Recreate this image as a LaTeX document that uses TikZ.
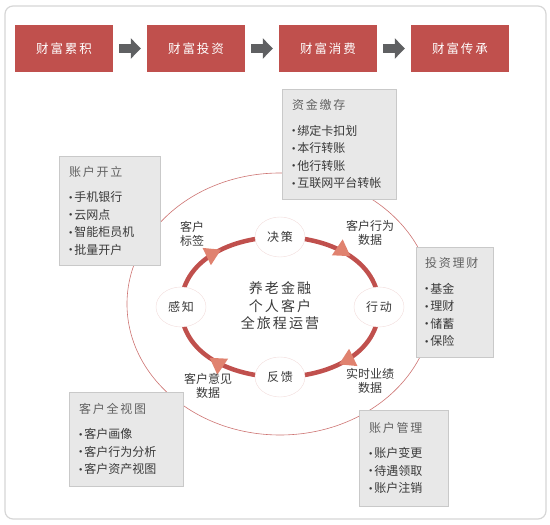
\documentclass[tikz,border=0pt]{standalone}
\usepackage{fontspec}
\usepackage{graphicx}
\setmainfont{Noto Sans CJK SC}
\newfontfamily\spaced[LetterSpace=15]{Noto Sans CJK SC}
\usetikzlibrary{positioning,arrows.meta,decorations.markings,shapes.geometric,backgrounds}
\definecolor{brick}{HTML}{C0504D}
\definecolor{salmon}{HTML}{E0826F}
\definecolor{boxgray}{HTML}{E8E8E8}
\definecolor{edgegray}{HTML}{C9C9C9}
\definecolor{ink}{HTML}{3A3A3A}
\definecolor{arrgray}{HTML}{5F6062}
\definecolor{framegray}{HTML}{D6D6D6}
\newcommand{\itm}{\raisebox{0.2em}{\scalebox{0.55}{$\bullet$}}\,}
\newcommand{\ttl}[1]{{\spaced\color{ink!80}#1}\\[8pt]}

\begin{document}
\begin{tikzpicture}[x=1pt,y=1pt,
  wb/.style={fill=brick, minimum width=98pt, minimum height=47pt,
             text=white, font=\spaced\fontsize{12.5}{14}\selectfont},
  flow/.style={-{Triangle[length=10pt,width=20pt]}, line width=9pt,
               color=arrgray, shorten <=6pt, shorten >=6pt},
  ib/.style={fill=boxgray, draw=edgegray, line width=0.8pt, align=left,
             inner xsep=10pt, inner ysep=6pt, text=ink,
             font=\fontsize{12}{17.5}\selectfont},
  ph/.style={ellipse, draw=brick!20, fill=white, minimum width=50pt,
             minimum height=40pt, inner sep=1pt, text=ink,
             font=\spaced\fontsize{12}{14}\selectfont},
  ring/.style={line width=4.5pt, color=brick, postaction={decorate},
               decoration={markings, mark=at position 0.55 with
               {\arrow[salmon]{Triangle[length=16pt,width=18pt]}}}},
  lbl/.style={align=center, text=ink, font=\fontsize{12}{14.5}\selectfont}]
  \useasboundingbox (0,0) rectangle (550,525);
  \draw[framegray, line width=1.2pt, rounded corners=8pt] (5,6) rectangle (546,519);

  % top row
  \node[wb] (w1) at (64,476.5)  {财富累积};
  \node[wb] (w2) at (196,476.5) {财富投资};
  \node[wb] (w3) at (328,476.5) {财富消费};
  \node[wb] (w4) at (460,476.5) {财富传承};
  \foreach \a/\b in {w1/w2,w2/w3,w3/w4}
    {\draw[flow] (\a) -- (\b);}

  % outer orbit
  \draw[brick!80, line width=0.6pt] (280,221) ellipse [x radius=153pt, y radius=131pt];

  % info boxes
  \node[ib, text width=94pt, minimum height=110pt] (zj) at (339,381)
    {\ttl{资金缴存}\itm 绑定卡扣划\\ \itm 本行转账\\ \itm 他行转账\\ \itm 互联网平台转帐};
  \node[ib, text width=81pt, minimum height=109pt] (kh) at (109.5,314.5)
    {\ttl{账户开立}\itm 手机银行\\ \itm 云网点\\ \itm 智能柜员机\\ \itm 批量开户};
  \node[ib, text width=59pt, inner xsep=9pt, minimum height=110pt] (tz) at (454.5,223)
    {\ttl{投资理财}\itm 基金\\ \itm 理财\\ \itm 储蓄\\ \itm 保险};
  \node[ib, text width=94pt, minimum height=94pt] (sv) at (126,86)
    {\ttl{客户全视图}\itm 客户画像\\ \itm 客户行为分析\\ \itm 客户资产视图};
  \node[ib, text width=69pt, minimum height=96pt] (gl) at (403.5,67)
    {\ttl{账户管理}\itm 账户变更\\ \itm 待遇领取\\ \itm 账户注销};

  % journey cycle
  \node[align=center, text=ink, font=\spaced\fontsize{14}{17.5}\selectfont] (core) at (280,219)
    {养老金融\\个人客户\\全旅程运营};
  \node[ph] (jc) at (280,288) {决策};
  \node[ph] (xd) at (379,218) {行动};
  \node[ph] (fk) at (280,148) {反馈};
  \node[ph] (gz) at (181,218) {感知};
  \begin{pgfonlayer}{background}
    \foreach \a/\b/\o/\i in {gz/jc/90/180, jc/xd/0/90, xd/fk/-90/0, fk/gz/180/-90}
      {\draw[ring] (\a.center) to[out=\o, in=\i] (\b.center);}
  \end{pgfonlayer}

  \node[lbl] (l1) at (192,291) {客户\\标签};
  \node[lbl] (l2) at (370,292) {客户行为\\数据};
  \node[lbl] (l3) at (370,144) {实时业绩\\数据};
  \node[lbl] (l4) at (208,139) {客户意见\\数据};
\end{tikzpicture}
\end{document}
